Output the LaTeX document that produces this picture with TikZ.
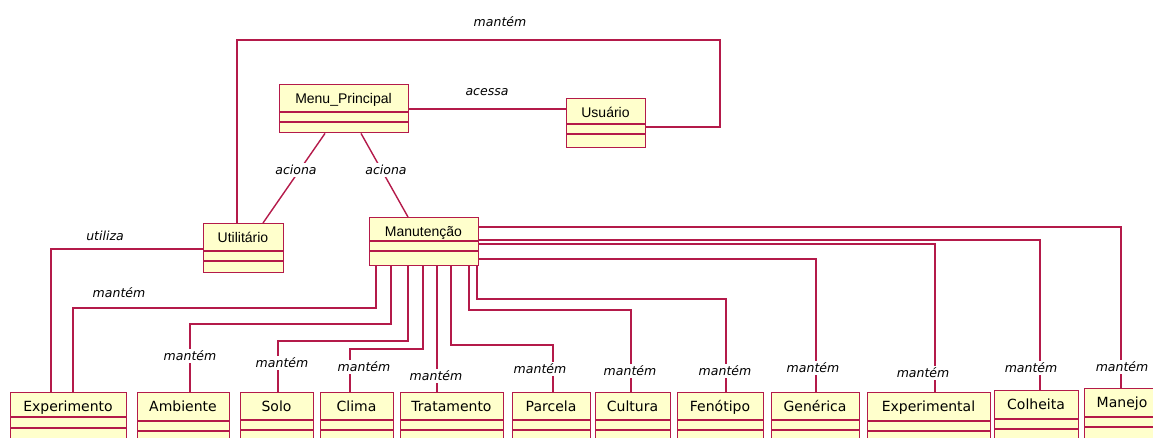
\documentclass[tikz,border=0pt]{standalone}
\usepackage{fontspec}
\newfontfamily\topfont{Liberation Sans}
\newfontfamily\botfont{DejaVu Sans}
\newfontfamily\lblfont{DejaVu Sans}
\definecolor{umlline}{RGB}{180,26,74}
\definecolor{umlfill}{RGB}{255,255,204}
\tikzset{
  classbox/.style={draw=umlline, fill=umlfill, line width=1.4pt, rectangle, inner sep=0pt, anchor=north west},
  conn/.style={draw=umlline, line width=1.4pt},
  rolelbl/.style={font=\lblfont\itshape\fontsize{12.5}{13}\selectfont, inner sep=2pt, fill=white, text=black},
  toptext/.style={font=\topfont\fontsize{14}{15}\selectfont, inner sep=0pt, anchor=base},
  bottext/.style={font=\botfont\fontsize{14}{15}\selectfont, inner sep=0pt, anchor=base},
}
% #1 name, #2 x1, #3 x2, #4 ytop, #5 ybottom, #6 comp1, #7 comp2, #8 text style, #9 text
\newcommand\umlclass[9]{%
  \node[classbox, minimum width={#3-#2}, minimum height={#5-#4}] (#1) at (#2,#4) {};
  \draw[conn] (#1.west |- 0,#6) -- (#1.east |- 0,#6);
  \draw[conn] (#1.west |- 0,#7) -- (#1.east |- 0,#7);
  \node[#8] (#1-name) at ({(#2+#3)/2},{#4+19.5}) {#9};
}
\begin{document}
\begin{tikzpicture}[x=1pt,y=-1pt]
\path[use as bounding box] (0,0) rectangle (1153,437);
\clip (0,0) rectangle (1153,437);

% top classes
\umlclass{menu}{279}{408}{84}{132}{112}{122}{toptext}{Menu\_Principal}
\umlclass{usuario}{566}{645}{98}{147}{124}{134}{toptext}{Usuário}
\umlclass{util}{203}{283}{223}{272}{251}{261}{toptext}{Utilitário}
\umlclass{manut}{369}{478}{217}{265}{241}{251}{toptext}{Manutenção}

% bottom classes
\umlclass{expr}{10}{126}{392}{470}{417}{428}{bottext}{Experimento}
\umlclass{amb}{137}{229}{392}{470}{421}{431}{bottext}{Ambiente}
\umlclass{solo}{240}{313}{392}{470}{420}{430}{bottext}{Solo}
\umlclass{clima}{320}{393}{392}{470}{420}{430}{bottext}{Clima}
\umlclass{trat}{400}{503}{392}{470}{420}{430}{bottext}{Tratamento}
\umlclass{parc}{512}{590}{392}{470}{420}{430}{bottext}{Parcela}
\umlclass{cult}{595}{670}{392}{470}{420}{430}{bottext}{Cultura}
\umlclass{feno}{677}{763}{392}{470}{420}{430}{bottext}{Fenótipo}
\umlclass{gen}{771}{859}{392}{470}{420}{430}{bottext}{Genérica}
\umlclass{expl}{867}{990}{392}{470}{421}{431}{bottext}{Experimental}
\umlclass{colh}{994}{1078}{390}{470}{419}{429}{bottext}{Colheita}
\umlclass{manejo}{1084}{1160}{388}{470}{417}{427}{bottext}{Manejo}

% connectors among top classes
\draw[conn] (menu.east |- 0,109) -- (usuario.west |- 0,109);
\draw[conn] (util.north -| 237,0) |- (720,40) |- (usuario.east |- 0,127);
\draw[conn] (menu.south -| 325,0) -- (util.north -| 263,0);
\draw[conn] (menu.south -| 361,0) -- (manut.north -| 408,0);
\draw[conn] (util.west |- 0,249) -| (expr.north -| 51,0);

% connectors from Manutencao
\draw[conn] (manut.south -| 376,0) |- (73,308) -- (expr.north -| 73,0);
\draw[conn] (manut.south -| 391,0) |- (190,324) -- (amb.north -| 190,0);
\draw[conn] (manut.south -| 408,0) |- (278,341) -- (solo.north -| 278,0);
\draw[conn] (manut.south -| 423,0) |- (350,349) -- (clima.north -| 350,0);
\draw[conn] (manut.south -| 437,0) -- (trat.north -| 437,0);
\draw[conn] (manut.south -| 451,0) |- (553,345) -- (parc.north -| 553,0);
\draw[conn] (manut.south -| 469,0) |- (631,310) -- (cult.north -| 631,0);
\draw[conn] (manut.south -| 477,0) |- (726,299) -- (feno.north -| 726,0);
\draw[conn] (manut.east |- 0,259) -| (gen.north -| 816,0);
\draw[conn] (manut.east |- 0,244) -| (expl.north -| 935,0);
\draw[conn] (manut.east |- 0,240) -| (colh.north -| 1040,0);
\draw[conn] (manut.east |- 0,227) -| (manejo.north -| 1121,0);

% labels
\node[rolelbl] (l-loop) at (500,22) {mantém};
\node[rolelbl] (l-acessa) at (487,92) {acessa};
\node[rolelbl] (l-aciona1) at (296,170) {aciona};
\node[rolelbl] (l-aciona2) at (386,170) {aciona};
\node[rolelbl] (l-utiliza) at (105,236) {utiliza};
\node[rolelbl] (l-expr) at (119,293) {mantém};
\node[rolelbl] (l-amb) at (190,356) {mantém};
\node[rolelbl] (l-solo) at (282,363) {mantém};
\node[rolelbl] (l-clima) at (364,367) {mantém};
\node[rolelbl] (l-trat) at (436,376) {mantém};
\node[rolelbl] (l-parc) at (540,369) {mantém};
\node[rolelbl] (l-cult) at (630,371) {mantém};
\node[rolelbl] (l-feno) at (725,371) {mantém};
\node[rolelbl] (l-gen) at (813,368) {mantém};
\node[rolelbl] (l-expl) at (923,373) {mantém};
\node[rolelbl] (l-colh) at (1031,368) {mantém};
\node[rolelbl] (l-manejo) at (1122,367) {mantém};
\end{tikzpicture}
\end{document}
